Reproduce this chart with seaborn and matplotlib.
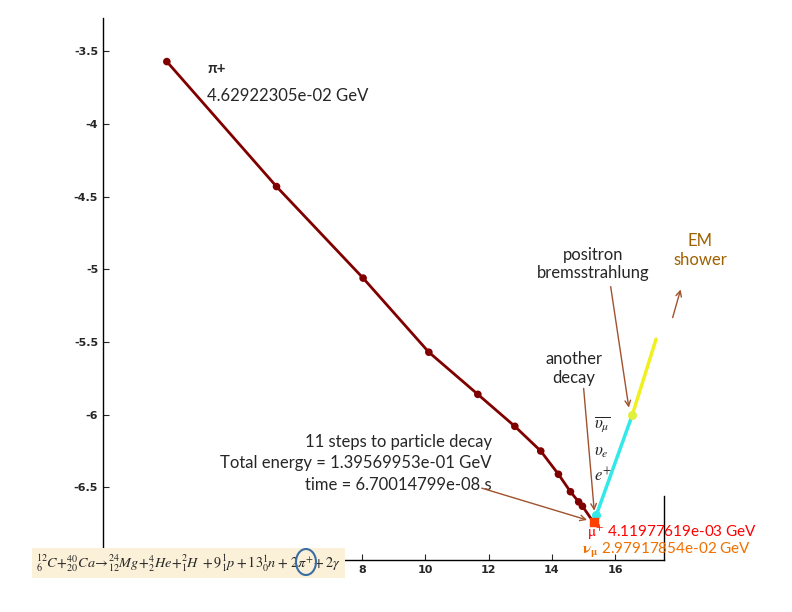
import matplotlib
matplotlib.use("Agg")
import matplotlib.pyplot as plt
import seaborn as sns
import pandas as pd
from matplotlib.patches import Ellipse

# pion track (energy position vs log value)
pi_x = [1.82, 5.29, 8.03, 10.11, 11.66, 12.83, 13.65, 14.21, 14.59, 14.85, 14.97, 15.32]
pi_y = [-3.57, -4.43, -5.06, -5.57, -5.86, -6.08, -6.25, -6.41, -6.53, -6.60, -6.63, -6.74]
mu_x = [15.41, 16.55]
mu_y = [-6.69, -6.00]
pos_x = [16.55, 17.30]
pos_y = [-6.00, -5.48]

sns.set_style("white")
plt.rcParams["mathtext.fontset"] = "stix"
fig = plt.figure(figsize=(7.92, 6.12), dpi=100)
ax = fig.add_axes([103 / 792, 52 / 612, 561 / 792, 542 / 612])

df = pd.DataFrame({"x": pi_x[:-1], "y": pi_y[:-1]})
sns.lineplot(x=pi_x, y=pi_y, ax=ax, color="#800000", lw=2)
sns.scatterplot(data=df, x="x", y="y", ax=ax, color="#800000", s=30, edgecolor="none", zorder=3)
sns.lineplot(x=mu_x, y=mu_y, ax=ax, color="#33e8e8", lw=2.5)
sns.lineplot(x=pos_x, y=pos_y, ax=ax, color="#f0f020", lw=2.5)
ax.scatter(mu_x[:1], mu_y[:1], color="#33e8e8", s=30, zorder=4)
ax.scatter(pos_x[:1], pos_y[:1], color="#e0f040", s=30, zorder=4)
ax.scatter(pi_x[-1:], pi_y[-1:], color="#ff4000", s=40, marker="s", zorder=5)

ax.set_xlim(-0.2, 17.55)
ax.set_ylim(-7.0, -3.27)
ax.set_xticks([8, 10, 12, 14, 16])
ax.set_yticks([-6.5, -6, -5.5, -5, -4.5, -4, -3.5])
ax.set_yticklabels(["-6.5", "-6", "-5.5", "-5", "-4.5", "-4", "-3.5"])
ax.tick_params(labelsize=8, direction="in", length=4, left=True, bottom=True)
for t in ax.get_xticklabels() + ax.get_yticklabels():
    t.set_fontweight("bold")
ax.spines["top"].set_visible(False)
ax.spines["right"].set_bounds(-7.0, -6.56)
for s in ax.spines.values():
    s.set_color("black")
    s.set_linewidth(1)
ax.set_xlabel("")
ax.set_ylabel("")

hand = ["Lato", "DejaVu Sans"]
ax.text(3.1, -3.65, "π+", fontsize=11, fontweight="bold", family=hand)
ax.text(3.1, -3.84, "4.62922305e-02 GeV", fontsize=12, family=hand)
ax.text(12.1, -6.22, "11 steps to particle decay", fontsize=12, family=hand, ha="right")
ax.text(12.1, -6.37, "Total energy = 1.39569953e-01 GeV", fontsize=12, family=hand, ha="right")
ax.text(12.1, -6.52, "time = 6.70014799e-08 s", fontsize=12, family=hand, ha="right")
ax.text(14.7, -5.78, "another\ndecay", fontsize=12, family=hand, ha="center", linespacing=1.2)
ax.text(15.3, -5.06, "positron\nbremsstrahlung", fontsize=12, family=hand, ha="center", linespacing=1.2)
ax.text(18.7, -4.97, "EM\nshower", fontsize=12, family=hand, ha="center", color="#a06000",
        linespacing=1.2, clip_on=False)
ax.text(15.35, -6.09, r"$\overline{\upsilon_\mu}$", fontsize=12)
ax.text(15.35, -6.28, r"$\upsilon_e$", fontsize=12)
ax.text(15.35, -6.46, r"$e^{+}$", fontsize=12)
ax.text(15.1, -6.84, r"$\mathrm{\mu^{+}}$ 4.11977619e-03 GeV", fontsize=11, color="red", family=hand, clip_on=False)
ax.text(14.95, -6.96, r"$\mathbf{\nu_\mu}$ 2.97917854e-02 GeV", fontsize=11, color="#f07000", family=hand, clip_on=False)

arr = dict(arrowstyle="->", color="#a0522d", lw=1)
ax.annotate("", xy=(15.2, -6.73), xytext=(11.7, -6.50), arrowprops=arr)
ax.annotate("", xy=(15.35, -6.68), xytext=(15.0, -5.8), arrowprops=arr)
ax.annotate("", xy=(16.45, -5.97), xytext=(15.85, -5.1), arrowprops=arr)
ax.annotate("", xy=(18.1, -5.12), xytext=(17.8, -5.35), arrowprops=arr, annotation_clip=False)

fig.text(36 / 792, (612 - 563) / 612,
         r"$^{12}_{6}C\!+\!^{40}_{20}Ca\!\rightarrow\!^{24}_{12}Mg\!+\!^{4}_{2}He\!+\!^{2}_{1}H\;+9^{1}_{1}p+13^{1}_{0}n+\,2\pi^{+}\!+2\gamma$",
         fontsize=10.3, va="center",
         bbox=dict(boxstyle="square,pad=0.3", fc="#fbf0d8", ec="none"))
circ = Ellipse((306 / 792, (612 - 562) / 612), 20 / 792, 26 / 612,
               transform=fig.transFigure, fill=False, ec="#3a6ea5", lw=1.5, zorder=10)
fig.add_artist(circ)

fig.savefig("out.png", dpi=100)
